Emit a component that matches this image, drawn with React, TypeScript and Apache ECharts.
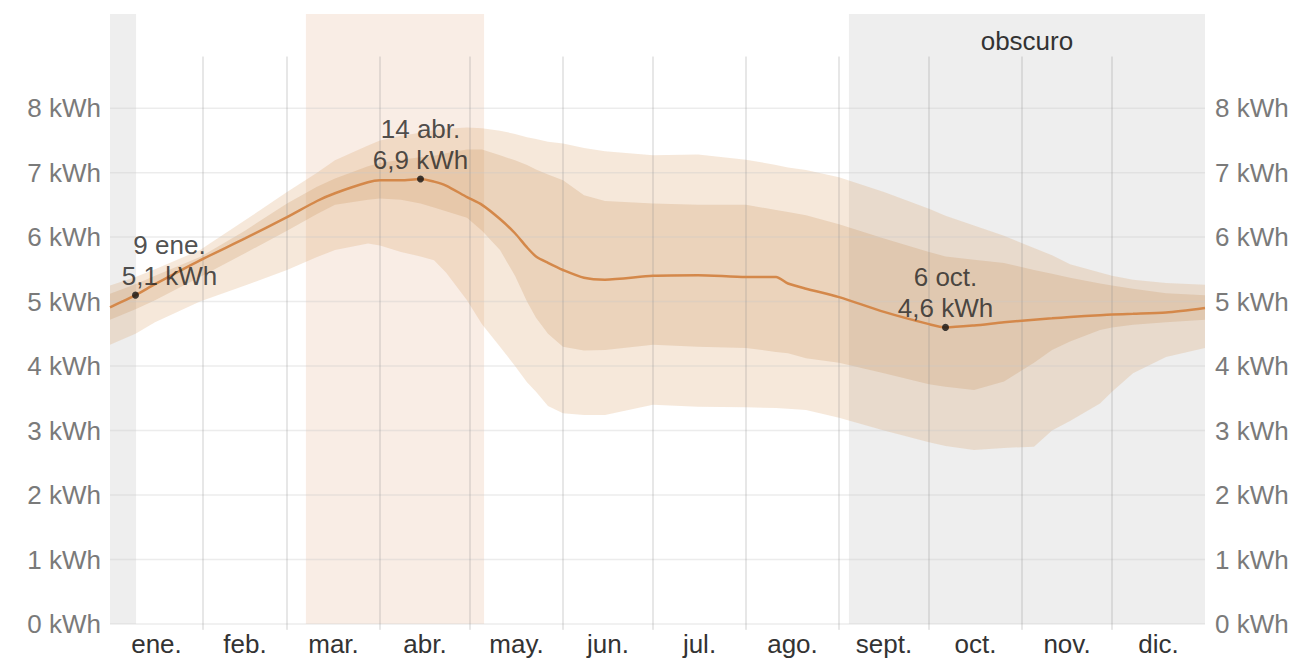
import React, { useEffect, useRef } from 'react';
import * as echarts from 'echarts';

// Day of year (0 = 1 Jan, 365 = 31 Dec end)
const DAYS = [0, 8.5, 15, 30, 45, 59, 69, 75, 86, 90, 97, 103.5, 108, 112, 119, 124, 130, 135, 139, 142, 146, 151, 158, 165, 181, 196, 212, 222, 226, 232, 243, 258, 273, 278.5, 288, 298, 308, 314, 320, 330, 334, 341, 352, 365];
// Percentile bands of daily energy (kWh)
const P10 = [4.33, 4.5, 4.68, 5.0, 5.25, 5.49, 5.69, 5.8, 5.9, 5.87, 5.77, 5.7, 5.64, 5.45, 5.02, 4.65, 4.3, 4.0, 3.75, 3.6, 3.38, 3.27, 3.24, 3.24, 3.4, 3.37, 3.36, 3.35, 3.34, 3.32, 3.2, 3.0, 2.82, 2.76, 2.7, 2.73, 2.75, 3.0, 3.15, 3.42, 3.6, 3.89, 4.14, 4.28];
const P25 = [4.72, 4.88, 5.02, 5.38, 5.75, 6.1, 6.36, 6.5, 6.58, 6.6, 6.58, 6.52, 6.46, 6.4, 6.3, 6.1, 5.8, 5.4, 5.0, 4.75, 4.5, 4.3, 4.24, 4.25, 4.33, 4.3, 4.28, 4.22, 4.2, 4.12, 4.05, 3.89, 3.72, 3.68, 3.63, 3.76, 4.05, 4.25, 4.38, 4.56, 4.6, 4.64, 4.68, 4.72];
const P50 = [4.91, 5.1, 5.27, 5.64, 5.98, 6.31, 6.56, 6.68, 6.85, 6.88, 6.88, 6.9, 6.86, 6.8, 6.62, 6.5, 6.28, 6.06, 5.84, 5.7, 5.6, 5.49, 5.37, 5.34, 5.4, 5.41, 5.38, 5.38, 5.28, 5.2, 5.07, 4.84, 4.65, 4.6, 4.63, 4.68, 4.72, 4.74, 4.76, 4.79, 4.8, 4.81, 4.83, 4.9];
const P75 = [5.12, 5.27, 5.4, 5.69, 6.1, 6.52, 6.78, 6.91, 7.1, 7.15, 7.2, 7.24, 7.26, 7.3, 7.36, 7.36, 7.27, 7.19, 7.12, 7.05, 6.97, 6.88, 6.65, 6.56, 6.52, 6.5, 6.5, 6.42, 6.39, 6.34, 6.2, 5.98, 5.77, 5.7, 5.65, 5.6, 5.49, 5.43, 5.37, 5.28, 5.25, 5.2, 5.13, 5.1];
const P90 = [5.25, 5.38, 5.5, 5.8, 6.26, 6.7, 7.0, 7.19, 7.42, 7.5, 7.57, 7.62, 7.66, 7.68, 7.7, 7.69, 7.65, 7.6, 7.55, 7.52, 7.48, 7.45, 7.38, 7.33, 7.27, 7.28, 7.2, 7.12, 7.08, 7.04, 6.93, 6.7, 6.44, 6.33, 6.18, 6.02, 5.83, 5.72, 5.58, 5.45, 5.4, 5.34, 5.29, 5.26];

const MONTH_LABELS = ['ene.', 'feb.', 'mar.', 'abr.', 'may.', 'jun.', 'jul.', 'ago.', 'sept.', 'oct.', 'nov.', 'dic.'];
const MONTH_MID = [15.5, 45, 74.5, 105, 135.5, 166, 196.5, 227.5, 258, 288.5, 319, 349.5];
const MONTH_STARTS = [31, 59, 90, 120, 151, 181, 212, 243, 273, 304, 334];
const Y_TICKS = [0, 1, 2, 3, 4, 5, 6, 7, 8];

const DARK_PERIODS = [[0, 8.7], [246.3, 365]];
const BRIGHT_PERIODS = [[65.3, 124.7]];
const DARK_LABEL = 'obscuro';

const ANNOT_DAYS = [8.5, 103.5, 278.5];
const ANNOT_VALUES = [5.1, 6.9, 4.6];
const ANNOT_DATES = ['9 ene.', '14 abr.', '6 oct.'];

// layout / style constants
const X_MAX = 365;
const Y_MAX = 9.46;
const V_LINE_TOP = 8.8;
const V_LINE_BOTTOM = -0.09;
const ANNOT_DX = [34, 0, 0];
const FONT = "'Liberation Sans', Arial, Helvetica, sans-serif";

export default function App() {
  const ref = useRef<HTMLDivElement>(null);

  useEffect(() => {
    if (!ref.current) return;
    const chart = echarts.init(ref.current, undefined, { renderer: 'svg' });

    const band = (upper: number[], lower: number[], color: string, z: number) => ({
      type: 'custom',
      silent: true,
      z,
      data: [[0, 0]],
      renderItem: (_params: any, api: any) => {
        const top = DAYS.map((d, i) => api.coord([d, upper[i]]));
        const bottom = DAYS.map((d, i) => api.coord([d, lower[i]])).reverse();
        return { type: 'polygon', shape: { points: top.concat(bottom) }, style: { fill: color } };
      },
    });

    const yAxisBase = (position: 'left' | 'right') => ({
      type: 'value',
      position,
      min: 0,
      max: Y_MAX,
      interval: 1,
      splitLine: { show: false },
      axisLine: { show: false },
      axisTick: { show: false },
      axisLabel: {
        margin: position === 'left' ? 9 : 10,
        fontSize: 26,
        color: '#7a7a7a',
        fontFamily: FONT,
        formatter: (v: number) => (v <= 8 && Number.isInteger(v) ? `${v} kWh` : ''),
      },
    });

    const option: any = {
      animation: false,
      textStyle: { fontFamily: FONT },
      grid: { left: 110, right: 88, top: 14, bottom: 34, containLabel: false },
      xAxis: {
        type: 'value',
        min: 0,
        max: X_MAX,
        splitLine: { show: false },
        axisLine: { show: false },
        axisTick: { show: false },
        axisLabel: {
          customValues: MONTH_MID,
          margin: 7,
          fontSize: 26,
          color: '#333',
          fontFamily: FONT,
          formatter: (v: number) => {
            const i = MONTH_MID.indexOf(v);
            return i >= 0 ? MONTH_LABELS[i] : '';
          },
        },
      },
      yAxis: [yAxisBase('left'), { ...yAxisBase('right'), yAxisIndex: 1 }],
      series: [
        {
          type: 'line',
          z: 1,
          silent: true,
          data: [],
          markArea: {
            silent: true,
            label: { show: false },
            data: [
              ...DARK_PERIODS.map((p, i) => [
                {
                  xAxis: p[0],
                  name: i === DARK_PERIODS.length - 1 ? DARK_LABEL : '',
                  itemStyle: { color: '#eeeeee' },
                  label: {
                    show: i === DARK_PERIODS.length - 1,
                    position: 'insideTop',
                    distance: 14,
                    fontSize: 26,
                    color: '#333',
                    fontFamily: FONT,
                  },
                },
                { xAxis: p[1] },
              ]),
              ...BRIGHT_PERIODS.map((p) => [
                { xAxis: p[0], itemStyle: { color: '#f9ede5' } },
                { xAxis: p[1] },
              ]),
            ],
          },
        },
        band(P90, P10, 'rgba(212, 150, 88, 0.22)', 2),
        band(P75, P25, 'rgba(198, 136, 76, 0.22)', 2),
        {
          type: 'custom',
          silent: true,
          z: 3,
          data: Y_TICKS.map((v) => [0, v]),
          renderItem: (_p: any, api: any) => {
            const v = api.value(1);
            const a = api.coord([0, v]);
            const b = api.coord([X_MAX, v]);
            return { type: 'line', shape: { x1: a[0], y1: a[1], x2: b[0], y2: b[1] }, style: { stroke: 'rgba(200,200,200,0.35)', lineWidth: 1.5 } };
          },
        },
        {
          type: 'custom',
          silent: true,
          z: 3,
          data: MONTH_STARTS.map((d) => [d, 0]),
          renderItem: (_p: any, api: any) => {
            const x = api.value(0);
            const a = api.coord([x, V_LINE_BOTTOM]);
            const b = api.coord([x, V_LINE_TOP]);
            return { type: 'line', shape: { x1: a[0], y1: a[1], x2: b[0], y2: b[1] }, style: { stroke: 'rgba(140,140,140,0.42)', lineWidth: 1 } };
          },
        },
        {
          type: 'line',
          z: 4,
          silent: true,
          showSymbol: false,
          smooth: 0.25,
          data: DAYS.map((d, i) => [d, P50[i]]),
          lineStyle: { color: '#d4884a', width: 2.5 },
        },
        {
          type: 'scatter',
          z: 6,
          silent: true,
          symbolSize: 7,
          itemStyle: { color: '#111' },
          data: ANNOT_DAYS.map((d, i) => ({ value: [d, ANNOT_VALUES[i]], label: { offset: [ANNOT_DX[i], 0] } })),
          label: {
            show: true,
            position: 'top',
            distance: 0,
            fontSize: 26,
            lineHeight: 31,
            color: '#222',
            fontFamily: FONT,
            align: 'center',
            formatter: (p: any) =>
              `${ANNOT_DATES[p.dataIndex]}\n${ANNOT_VALUES[p.dataIndex].toFixed(1).replace('.', ',')} kWh`,
          },
        },
      ],
    };

    chart.setOption(option);
    return () => chart.dispose();
  }, []);

  return (
    <div
      ref={ref}
      style={{ position: 'fixed', left: 0, top: 0, width: 1293, height: 658, background: '#fff' }}
    />
  );
}
